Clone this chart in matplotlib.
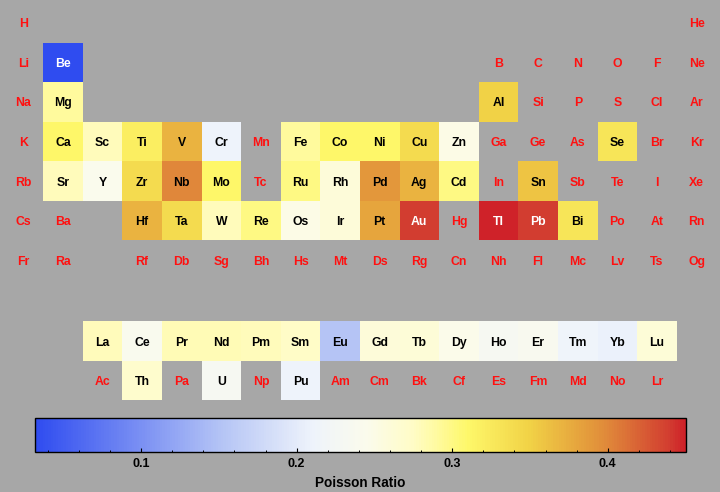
import matplotlib
matplotlib.use("Agg")
import matplotlib.pyplot as plt
from matplotlib.patches import Rectangle
from matplotlib.colors import LinearSegmentedColormap, Normalize
from matplotlib.cm import ScalarMappable
from matplotlib.ticker import MultipleLocator, FixedLocator

# ---------------- data ----------------
symbols = ["H", "He", "Li", "Be", "B", "C", "N", "O", "F", "Ne",
           "Na", "Mg", "Al", "Si", "P", "S", "Cl", "Ar",
           "K", "Ca", "Sc", "Ti", "V", "Cr", "Mn", "Fe", "Co", "Ni", "Cu", "Zn",
           "Ga", "Ge", "As", "Se", "Br", "Kr",
           "Rb", "Sr", "Y", "Zr", "Nb", "Mo", "Tc", "Ru", "Rh", "Pd", "Ag", "Cd",
           "In", "Sn", "Sb", "Te", "I", "Xe",
           "Cs", "Ba", "La", "Ce", "Pr", "Nd", "Pm", "Sm", "Eu", "Gd", "Tb", "Dy",
           "Ho", "Er", "Tm", "Yb", "Lu", "Hf", "Ta", "W", "Re", "Os", "Ir", "Pt",
           "Au", "Hg", "Tl", "Pb", "Bi", "Po", "At", "Rn",
           "Fr", "Ra", "Ac", "Th", "Pa", "U", "Np", "Pu", "Am", "Cm", "Bk", "Cf",
           "Es", "Fm", "Md", "No", "Lr", "Rf", "Db", "Sg", "Bh", "Hs", "Mt", "Ds",
           "Rg", "Cn", "Nh", "Fl", "Mc", "Lv", "Ts", "Og"]

poisson_symbols = ["Be", "Mg", "Al", "Ca", "Sc", "Ti", "V", "Cr", "Fe", "Co", "Ni",
                   "Cu", "Zn", "Se", "Sr", "Y", "Zr", "Nb", "Mo", "Ru", "Rh", "Pd",
                   "Ag", "Cd", "Sn", "Hf", "Ta", "W", "Re", "Os", "Ir", "Pt", "Au",
                   "Tl", "Pb", "Bi", "La", "Ce", "Pr", "Nd", "Pm", "Sm", "Eu", "Gd",
                   "Tb", "Dy", "Ho", "Er", "Tm", "Yb", "Lu", "Th", "U", "Pu"]
poisson_values = [0.032, 0.29, 0.35, 0.31, 0.279, 0.32, 0.37, 0.21, 0.29, 0.31, 0.31,
                  0.34, 0.25, 0.33, 0.28, 0.243, 0.34, 0.40, 0.31, 0.30, 0.26, 0.39,
                  0.37, 0.30, 0.36, 0.37, 0.34, 0.28, 0.30, 0.25, 0.26, 0.38, 0.44,
                  0.45, 0.44, 0.33, 0.280, 0.24, 0.281, 0.281, 0.28, 0.274, 0.152, 0.259,
                  0.261, 0.247, 0.231, 0.237, 0.213, 0.207, 0.261, 0.27, 0.23, 0.21]

colorbar_ticks = [0.1, 0.2, 0.3, 0.4]
colorbar_label = "Poisson Ratio"

# ---------------- layout of the periodic table ----------------
def position(z):
    """Return (column, row) of the element with atomic number z."""
    if z == 1:
        return 1, 1
    if z == 2:
        return 18, 1
    if z <= 10:
        k = z - 2
        return (k if k <= 2 else k + 10), 2
    if z <= 18:
        k = z - 10
        return (k if k <= 2 else k + 10), 3
    if z <= 36:
        return z - 18, 4
    if z <= 54:
        return z - 36, 5
    if 57 <= z <= 71:
        return z - 54, 9
    if 89 <= z <= 103:
        return z - 86, 10
    if z <= 86:
        k = z - 54
        return (k if k <= 2 else k - 14), 6
    k = z - 86
    return (k if k <= 2 else k - 14), 7

bg = "#a7a7a7"
W, H = 720, 492
fig = plt.figure(figsize=(W / 100, H / 100), dpi=100, facecolor=bg)

# colormap (TemperatureMap-like)
vmin, vmax = 0.032, 0.45
stops = [(0.032, "#2f4cf0"), (0.15, "#b3c3f5"), (0.21, "#eef3fb"),
         (0.245, "#fbfbec"), (0.275, "#fffcc6"), (0.29, "#fffaa0"),
         (0.31, "#fef86a"), (0.35, "#f1d246"), (0.39, "#e3983b"),
         (0.40, "#e0893a"), (0.44, "#d23d30"), (0.45, "#cf2229")]
cmap = LinearSegmentedColormap.from_list(
    "temp", [((v - vmin) / (vmax - vmin), c) for v, c in stops])
norm = Normalize(vmin=vmin, vmax=vmax)

# main axes spans whole figure; units are cells
cell = 39.6
ax = fig.add_axes([0, 0, 1, 1])
ax.set_facecolor(bg)
x0 = 1 - 23.3 / cell
ax.set_xlim(x0, x0 + W / cell)
y0 = 1 - 22.7 / cell
ax.set_ylim(y0 + H / cell, y0)
ax.axis("off")

pvals = dict(zip(poisson_symbols, poisson_values))
for z, sym in enumerate(symbols, start=1):
    col, row = position(z)
    yrow = row + (0.04 if row >= 9 else 0)
    if sym in pvals:
        v = pvals[sym]
        ax.add_patch(Rectangle((col - 0.5, yrow - 0.5), 1.0, 1.0,
                               facecolor=cmap(norm(v)), edgecolor="none"))
        tc = "white" if (v < 0.08 or v > 0.42) else "black"
    else:
        tc = "#ff1010"
    ax.text(col, yrow, sym, ha="center", va="center_baseline", color=tc,
            fontsize=8.8, fontweight="bold", family="Liberation Sans")

# colorbar
cax = fig.add_axes([35.3 / W, 1 - 451.5 / H, (685.5 - 35.3) / W, 33.5 / H])
cb = fig.colorbar(ScalarMappable(norm=norm, cmap=cmap), cax=cax,
                  orientation="horizontal")
cb.outline.set_edgecolor("black")
cb.outline.set_linewidth(1.0)
cax.xaxis.set_major_locator(FixedLocator(colorbar_ticks))
cax.xaxis.set_minor_locator(MultipleLocator(0.02))
cax.tick_params(axis="x", which="major", direction="in", length=3.0, width=0.8,
                color="black", pad=5)
cax.tick_params(axis="x", which="minor", direction="in", length=1.8, width=0.7,
                color="black")
cax.set_xticklabels([f"{t:g}" for t in colorbar_ticks])
for lab in cax.get_xticklabels():
    lab.set_fontweight("bold")
    lab.set_fontsize(9)
    lab.set_family("Liberation Sans")
cax.set_xlabel(colorbar_label, fontsize=9.8, fontweight="bold",
               family="Liberation Sans", labelpad=4)

fig.savefig("out.png", dpi=100, facecolor=bg)
